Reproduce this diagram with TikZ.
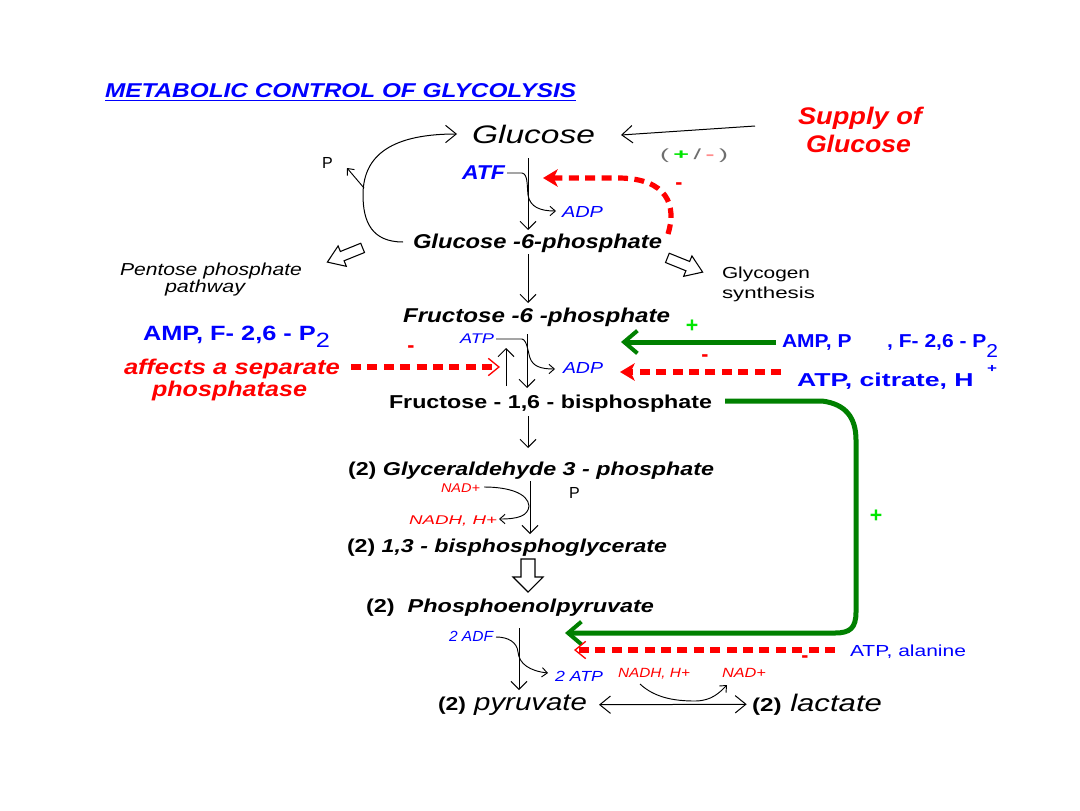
\documentclass[tikz,border=0pt]{standalone}
\usepackage{fontspec}
\setmainfont{Liberation Sans}
\usepackage{graphicx}
\usetikzlibrary{arrows.meta,calc}
\definecolor{tblue}{RGB}{0,0,255}
\definecolor{tred}{RGB}{255,0,0}
\definecolor{tgreen}{RGB}{0,128,0}
\definecolor{lgreen}{RGB}{0,230,0}
\definecolor{lpink}{RGB}{255,140,140}
\definecolor{tgray}{RGB}{110,110,110}
\newcommand\fw[2]{\resizebox{\dimexpr#1pt*3/4\relax}{\height}{#2}}
\newcommand\blockarr[3]{\draw[line width=0.8pt,shift={(#1,#2)},rotate=#3] (-19,-5) -- (3,-5) -- (3,-11) -- (19,0) -- (3,11) -- (3,5) -- (-19,5) -- cycle;}
\tikzset{
 txt/.style={anchor=base west, inner sep=0pt, outer sep=0pt},
 bi/.style={font=\fontsize{#1}{#1}\selectfont\bfseries\itshape},
 bu/.style={font=\fontsize{#1}{#1}\selectfont\bfseries},
 it/.style={font=\fontsize{#1}{#1}\selectfont\itshape},
 rm/.style={font=\fontsize{#1}{#1}\selectfont},
 sgn/.style={inner sep=0pt, font=\fontsize{16}{16}\selectfont\bfseries},
 varr/.style={line width=0.75pt, -{Straight Barb[length=6pt,width=12pt]}},
 barr/.style={line width=0.75pt, -{Straight Barb[length=8pt,width=13pt]}},
 sarr/.style={line width=0.7pt, -{Straight Barb[length=4pt,width=7pt]}},
 rdash/.style={tred, line width=3.9pt, dash pattern=on 7.5pt off 4.8pt},
 rthin/.style={-{Straight Barb[length=8pt,width=13pt,line width=1pt]}},
 rsolid/.style={-{Stealth[length=11pt,width=13pt,inset=3pt]}},
 gline/.style={tgreen, line width=3.75pt},
 garr/.style={-{Straight Barb[length=10pt,width=17pt,line width=3pt]}},
}
\begin{document}
\begin{tikzpicture}[x=0.75pt,y=-0.75pt]
\fill[white] (0,0) rectangle (1080,810);
\useasboundingbox (0,0) rectangle (1080,810);

% ---------- title ----------
\node[txt,bi=15,tblue] (title) at (105,97) {\fw{471}{METABOLIC CONTROL OF GLYCOLYSIS}};
\draw[tblue,line width=1.1pt] ([yshift=-2.6pt]title.base west) -- ([yshift=-2.6pt]title.base east);

% ---------- top ----------
\node[txt,it=19] (glc) at (472,143) {\fw{123}{Glucose}};
\node[txt,bi=18,tred] (sup1) at (798,124) {\fw{124}{Supply of}};
\node[txt,bi=18,tred] (sup2) at (806,152) {\fw{105}{Glucose}};
\node[txt,rm=11] (pm) at (660,159) {\fw{68}{\textcolor{tgray}{(}\,\textcolor{lgreen}{\bfseries +}\,\textcolor{tgray}{/}\,\textcolor{lpink}{\bfseries -}\,\textcolor{tgray}{)}}};
\node[txt,bi=15,tblue] (atf) at (462,179) {\fw{43}{ATF}};
\node[txt,it=12,tblue] (adp1) at (562,217) {\fw{41}{ADP}};
\node[txt,bi=15] (g6p) at (413,248) {\fw{249}{Glucose -6-phosphate}};
\node[txt,rm=12] (pP1) at (322,168) {P};

\coordinate (supS) at (755,126);
\draw[barr] (supS) -- (621,135);

\coordinate (v1a) at (528,158);
\coordinate (v1b) at (528,230);
\draw[varr] (v1a) -- (v1b);
\draw[sarr] (atf.base east) ++(2,-6) -- (522,173) .. controls (528,174) and (527,186) .. (528,195) .. controls (530,207) and (540,211) .. (556,211);

\coordinate (gcS) at (403,242);
\draw[barr] (gcS) .. controls (372,242) and (363,222) .. (363,195) .. controls (363,160) and (385,134) .. (457,134);
\draw[sarr] (364,188) -- (347,168);

\draw[rdash,rsolid] (668,234) .. controls (677,205) and (667,179) .. (620,178) -- (543,178);
\node[sgn,tred] at (679,186) {-};

% ---------- side branches ----------
\blockarr{345}{255}{202}
\blockarr{685}{265}{-22}
\node[txt,it=13] (pent1) at (120,275) {\fw{182}{Pentose phosphate}};
\node[txt,it=13] (pent2) at (165,292) {\fw{80}{pathway}};
\node[txt,rm=12] (gly1) at (722,278) {\fw{88}{Glycogen}};
\node[txt,rm=12] (gly2) at (722,298) {\fw{93}{synthesis}};

\draw[varr] (528,254) -- (528,303);

% ---------- PFK ----------
\node[txt,bi=15] (f6p) at (403,322) {\fw{267}{Fructose -6 -phosphate}};
\node[txt,bu=15.5,tblue] (ampL) at (143,340) {\fw{187}{AMP, F- 2,6 - P\raisebox{-0.35em}{\mdseries 2}}};
\node[txt,bi=16,tred] (aff1) at (124,374) {\fw{216}{affects a separate}};
\node[txt,bi=16,tred] (aff2) at (152,396) {\fw{155}{phosphatase}};
\node[txt,it=10.5,tblue] (atp2) at (460,343) {\fw{34}{ATP}};
\node[txt,it=12,tblue] (adp2) at (563,373) {\fw{40}{ADP}};
\node[txt,bu=14,tblue] (ampR) at (782,347) {\fw{216}{AMP, P\hspace{1.7em}, F- 2,6 - P\raisebox{-0.55em}{\mdseries 2}}};
\node[txt,bu=14,tblue] (atpR) at (797,386) {\fw{200}{ATP, citrate, H\hspace{0.5em}\raisebox{0.75em}{\fontsize{9}{9}\selectfont +}}};
\node[txt,bu=14] (f16) at (389,408) {\fw{323}{Fructose - 1,6 - bisphosphate}};

\draw[varr] (527,334) -- (527,388);
\draw[varr] (506,386) -- (506,348);
\draw[sarr] (496,339) -- (522,339) .. controls (527,340) and (528,352) .. (530,358) .. controls (533,366) and (540,369) .. (555,369);

\draw[rdash,rthin] (351,367) -- (500,367);
\node[sgn,tred] at (411,349) {-};
\draw[gline,garr] (776,342) -- (621,342);
\node[sgn,lgreen] at (692,326) {+};
\draw[rdash,rsolid] (781,372) -- (620,372);
\node[sgn,tred] at (705,358) {-};

% ---------- lower part ----------
\draw[varr] (528,416) -- (528,448);
\node[txt,bu=14] (g3p) at (348,475) {\fw{366}{(2) \textit{Glyceraldehyde 3 - phosphate}}};
\node[txt,it=9.5,tred] (nad1) at (441,492) {\fw{39}{NAD+}};
\node[txt,it=9.5,tred] (nadh1) at (409,524) {\fw{88}{NADH, H+}};
\node[txt,rm=12] (pP2) at (569,498) {P};
\draw[varr] (530,481) -- (530,534);
\draw[sarr] (484,487) .. controls (508,487) and (528,493) .. (529,506) .. controls (528,516) and (518,519) .. (499,519);

\node[txt,bu=14] (bpg) at (347,552) {\fw{320}{(2) \textit{1,3 - bisphosphoglycerate}}};
\draw[line width=0.8pt] (521,559) -- (535,559) -- (535,577) -- (543,577) -- (528,592) -- (513,577) -- (521,577) -- cycle;
\node[txt,bu=14] (pep) at (366,612) {\fw{288}{(2)\ \ \textit{Phosphoenolpyruvate}}};

\node[txt,it=11,tblue] (adf) at (449,641) {\fw{44}{2 ADF}};
\node[txt,it=11,tblue] (atp3) at (555,681) {\fw{48}{2 ATP}};
\draw[varr] (519,628) -- (519,690);
\draw[sarr] (496,637) .. controls (508,637) and (517,642) .. (518,652) .. controls (519,664) and (530,671) .. (548,673);

\draw[gline,garr] (725,401) -- (822,401) .. controls (846,404) and (856,418) .. (856,440) -- (856,612) .. controls (856,628) and (850,633) .. (835,633) -- (565,633);
\node[sgn,lgreen] at (876,516) {+};

\draw[rdash,rthin] (835,650) -- (574,650);
\node[sgn,tred] at (805,659) {-};
\node[txt,rm=12,tblue] (ala) at (850,656) {\fw{116}{ATP, alanine}};

\node[txt,it=10,tred] (nadh2) at (618,677) {\fw{72}{NADH, H+}};
\node[txt,it=10,tred] (nad2) at (722,677) {\fw{44}{NAD+}};

\node[txt,it=18] (pyr) at (438,710) {\fw{149}{{\fontsize{14}{14}\selectfont\bfseries\upshape (2)} pyruvate}};
\node[txt,it=18] (lac) at (752,711) {\fw{130}{{\fontsize{14}{14}\selectfont\bfseries\upshape (2)} lactate}};
\draw[line width=0.75pt,{Straight Barb[length=8pt,width=13pt]}-{Straight Barb[length=8pt,width=13pt]}] ([xshift=9pt]pyr.east) -- ([xshift=-4pt]lac.west);
\draw[sarr] (640,684) .. controls (655,698) and (675,701) .. (695,701) .. controls (712,701) and (720,692) .. (727,685);
\end{tikzpicture}
\end{document}
